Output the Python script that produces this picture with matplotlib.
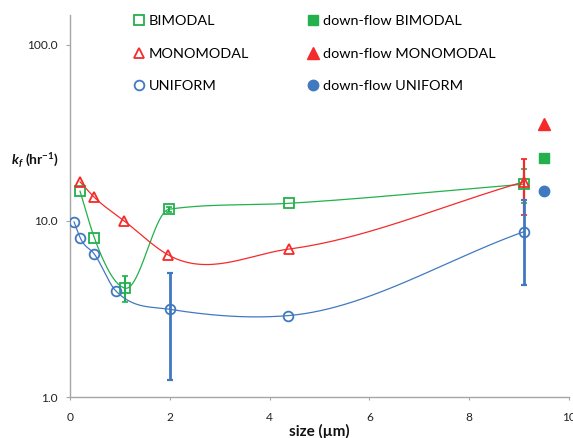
import numpy as np
import matplotlib
matplotlib.use("Agg")
import matplotlib.pyplot as plt
from matplotlib.lines import Line2D

# ---------------- data ----------------
bi_x = [0.2, 0.49, 1.11, 1.98, 4.39, 9.1]
bi_y = [14.8, 8.0, 4.15, 11.65, 12.6, 16.2]
bi_err = [0, 0, 0.7, 0.4, 0, 3.5]

mono_x = [0.2, 0.48, 1.09, 1.97, 4.39, 9.1]
mono_y = [16.7, 13.7, 10.0, 6.41, 6.93, 16.7]
mono_err = [0, 0, 0, 0, 0, 5.9]

uni_x = [0.08, 0.21, 0.49, 0.92, 2.0, 4.37, 9.1]
uni_y = [9.9, 7.97, 6.47, 4.0, 3.15, 2.9, 8.7]
uni_err = [0, 0, 0, 0, 1.9, 0, 4.4]

df_x = [9.5]
df_bi = [22.7]
df_mono = [35.6]
df_uni = [14.9]

labels_open = ["BIMODAL", "MONOMODAL", "UNIFORM"]
labels_fill = ["down-flow BIMODAL", "down-flow MONOMODAL", "down-flow UNIFORM"]
yticks = [1, 10, 100]
xticks = [0, 2, 4, 6, 8, 10]

GREEN = "#22B14C"
RED = "#F52A2A"
BLUE = "#4179C0"
GRAY = "#A6A6A6"

plt.rcParams["font.family"] = ["Lato", "DejaVu Sans"]
plt.rcParams["mathtext.fontset"] = "custom"
plt.rcParams["mathtext.rm"] = "Lato"
plt.rcParams["mathtext.bf"] = "Lato:bold"
plt.rcParams["mathtext.it"] = "Lato:italic"
plt.rcParams["mathtext.bfit"] = "Lato:bold:italic"

W, H = 573, 438
fig = plt.figure(figsize=(W / 100, H / 100), dpi=100)
ax = fig.add_axes([70 / W, 1 - 397 / H, (569 - 70) / W, (397 - 15) / H])
ax.set_yscale("log")
ax.set_xlim(0, 10)
ax.set_ylim(1, 148)


def smooth_curve(ax, xs, ys, n=60):
    """Smoothed line through the points: cubic Hermite in display space,
    3-point slopes, limited on monotone runs (free at extrema)."""
    P = ax.transData.transform(np.column_stack([xs, ys]))
    X, Y = P[:, 0], P[:, 1]
    h = np.diff(X)
    s = np.diff(Y) / h
    k = len(X)
    m = np.empty(k)
    m[0], m[-1] = s[0], s[-1]
    for i in range(1, k - 1):
        a, b = s[i - 1], s[i]
        mi = (h[i] * a + h[i - 1] * b) / (h[i - 1] + h[i])
        if a * b > 0:
            lim = 3 * min(abs(a), abs(b))
            if abs(mi) > lim:
                mi = np.sign(mi) * lim
        m[i] = mi
    u = np.linspace(0, 1, n)
    h00 = 2 * u ** 3 - 3 * u ** 2 + 1
    h10 = u ** 3 - 2 * u ** 2 + u
    h01 = -2 * u ** 3 + 3 * u ** 2
    h11 = u ** 3 - u ** 2
    xx, yy = [], []
    for i in range(k - 1):
        sx = X[i] + u * h[i]
        sy = h00 * Y[i] + h10 * h[i] * m[i] + h01 * Y[i + 1] + h11 * h[i] * m[i + 1]
        if i > 0:
            sx, sy = sx[1:], sy[1:]
        xx.append(sx)
        yy.append(sy)
    C = np.column_stack([np.concatenate(xx), np.concatenate(yy)])
    D = ax.transData.inverted().transform(C)
    return D[:, 0], D[:, 1]


series = [
    (bi_x, bi_y, bi_err, GREEN, "s", 7.0, 1.5, 1, 2),
    (mono_x, mono_y, mono_err, RED, "^", 7.5, 1.6, 2, 3),
    (uni_x, uni_y, uni_err, BLUE, "o", 7.0, 2.0, 3, 4),
]
for xs, ys, err, col, mk, ms, elw, zl, zm in series:
    sx, sy = smooth_curve(ax, xs, ys)
    ax.plot(sx, sy, color=col, lw=0.9, zorder=zl, solid_capstyle="round")
    ex = [x for x, e in zip(xs, err) if e > 0]
    ey = [y for y, e in zip(ys, err) if e > 0]
    ee = [e for e in err if e > 0]
    ax.errorbar(ex, ey, yerr=ee, fmt="none", ecolor=col, elinewidth=elw,
                capsize=2.5, capthick=elw * 0.8, zorder=zl + 0.5)
    ax.plot(xs, ys, linestyle="none", marker=mk, ms=ms, mfc="none",
            mec=col, mew=1.3, zorder=zm + 5)

ax.plot(df_x, df_mono, linestyle="none", marker="^", ms=9, color=RED, zorder=10)
ax.plot(df_x, df_bi, linestyle="none", marker="s", ms=7.5, color=GREEN, zorder=10)
ax.plot(df_x, df_uni, linestyle="none", marker="o", ms=7.5, color=BLUE, zorder=10)

# axes styling
for s in ["top", "right"]:
    ax.spines[s].set_visible(False)
for s in ["left", "bottom"]:
    ax.spines[s].set_color(GRAY)
    ax.spines[s].set_linewidth(1.0)
ax.set_yticks(yticks)
ax.set_yticklabels(["%.1f" % v for v in yticks])
ax.yaxis.set_minor_locator(matplotlib.ticker.NullLocator())
ax.set_xticks(xticks)
ax.set_xticklabels([str(v) for v in xticks])
ax.tick_params(axis="y", direction="out", length=3, width=0.8, color=GRAY,
               labelsize=8.6, pad=6.0, labelcolor="#222222")
ax.tick_params(axis="x", direction="out", length=2.5, width=0.8, color=GRAY,
               labelsize=8.6, pad=8.5, labelcolor="#222222")

# labels
fig.text(35 / W, 1 - 161 / H, r"$\mathbfit{k}_{\mathbfit{f}}$ (hr$^{\mathbf{-1}}$)",
         fontsize=10, fontweight="bold", ha="center", va="center", color="#111111")
fig.text(319 / W, 1 - 431 / H, "size (\u00b5m)", fontsize=11, fontweight="bold",
         ha="center", va="center", color="#111111")

# legends
h_open = [
    Line2D([], [], linestyle="none", marker="s", ms=7, mfc="none", mec=GREEN, mew=1.3),
    Line2D([], [], linestyle="none", marker="^", ms=7.5, mfc="none", mec=RED, mew=1.3),
    Line2D([], [], linestyle="none", marker="o", ms=7, mfc="none", mec=BLUE, mew=1.3),
]
h_fill = [
    Line2D([], [], linestyle="none", marker="s", ms=7, color=GREEN),
    Line2D([], [], linestyle="none", marker="^", ms=8, color=RED),
    Line2D([], [], linestyle="none", marker="o", ms=7.5, color=BLUE),
]
common = dict(loc="upper left", frameon=False, fontsize=10.4, labelspacing=1.42,
              handlelength=0.7, handletextpad=0.33, borderpad=0, borderaxespad=0)
fig.legend(h_open, labels_open, bbox_to_anchor=(134 / W, 1 - 15 / H), **common)
fig.legend(h_fill, labels_fill, bbox_to_anchor=(308 / W, 1 - 15 / H), **common)

fig.savefig("out.png", dpi=100)
